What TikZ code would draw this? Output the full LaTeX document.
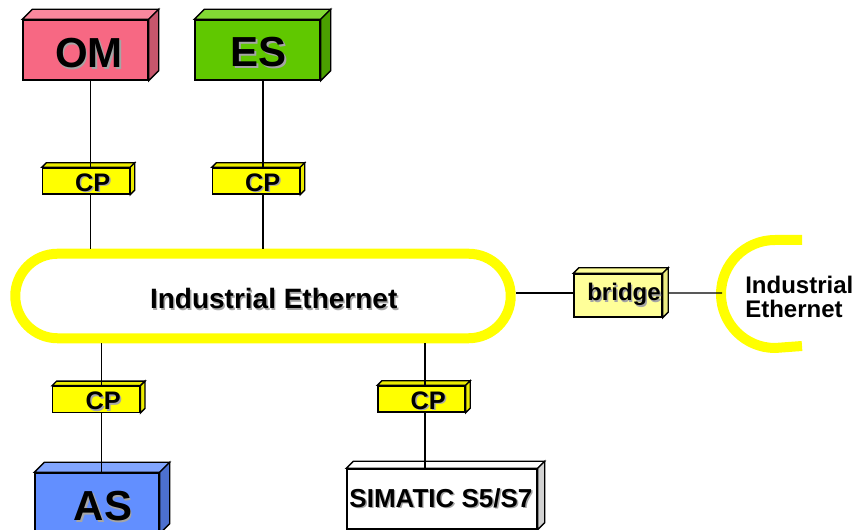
\documentclass[tikz,border=0pt]{standalone}
\usepackage{fontspec}
\setmainfont{Liberation Sans}
\usetikzlibrary{positioning,calc,shapes.misc}
\definecolor{omfront}{RGB}{247,104,131}
\definecolor{omtop}{RGB}{249,136,157}
\definecolor{omside}{RGB}{198,86,108}
\definecolor{esfront}{RGB}{96,200,0}
\definecolor{estop}{RGB}{130,216,52}
\definecolor{esside}{RGB}{74,160,0}
\definecolor{asfront}{RGB}{98,143,255}
\definecolor{astop}{RGB}{130,166,255}
\definecolor{asside}{RGB}{76,112,208}
\definecolor{cpyellow}{RGB}{255,255,0}
\definecolor{cpside}{RGB}{236,236,0}
\definecolor{bridgeyellow}{RGB}{255,255,153}
\definecolor{bridgeside}{RGB}{236,236,130}
\definecolor{simside}{RGB}{210,210,210}
\definecolor{ringyellow}{RGB}{255,255,0}
\definecolor{shadowgray}{RGB}{165,165,165}
% text with a grey drop shadow, moved right by #1 and down by #2
\newcommand{\shtext}[3]{\kern#1\kern#1\raisebox{-#2}[\height][\depth]{\rlap{\kern1.1pt\raisebox{-1.1pt}{\color{shadowgray}#3}}#3}}
% top and side faces of a box node: node, depth, top colour, side colour
\newcommand{\boxfaces}[4]{%
	\draw [line width=1pt, fill=#3] (#1.north west) -- ++(#2,-#2) -- ($(#1.north east)+(#2,-#2)$) -- (#1.north east) -- cycle ;
	\draw [line width=1pt, fill=#4] (#1.north east) -- ++(#2,-#2) -- ($(#1.south east)+(#2,-#2)$) -- (#1.south east) -- cycle ;
}

\begin{document}
\begin{tikzpicture}[x=0.75pt,y=0.75pt,yscale=-1,xscale=1,
	unit/.style={draw, line width=1pt, inner sep=0pt, align=center},
	bigtext/.style={font=\bfseries\fontsize{31.5}{36}\selectfont},
	cpbox/.style={unit, fill=cpyellow, minimum width=65.25pt, minimum height=19.5pt, font=\bfseries\fontsize{19}{22}\selectfont},
	link/.style={line width=0.9pt},
	ring/.style={draw=ringyellow, line width=7.5pt}]
	\useasboundingbox (0,0) rectangle (858,530);
	
	%Shape: Ring
	\node [ring, rounded rectangle, inner sep=0pt, minimum width=371.6pt, minimum height=63.4pt] (ring) at (263,296) {};
	% Text Node
	\node [font=\bfseries\fontsize{21}{25}\selectfont] (ringlabel) at (273.7,299.7) {\shtext{0pt}{0pt}{Industrial Ethernet}};
	
	%Shape: Box OM
	\node [unit, fill=omfront, minimum width=93.75pt, minimum height=45pt, bigtext] (om) at (85.5,50) {\shtext{2.6pt}{3pt}{OM}};
	\boxfaces{om}{10}{omtop}{omside}
	%Shape: Box ES
	\node [unit, fill=esfront, minimum width=93.75pt, minimum height=45pt, bigtext] (es) at (257.5,50) {\shtext{1.1pt}{2.3pt}{ES}};
	\boxfaces{es}{10}{estop}{esside}
	
	%Shape: CP boxes
	\node [cpbox] (cp1) at (86,181) {\shtext{5pt}{1.9pt}{CP}};
	\boxfaces{cp1}{4.5}{cpside}{cpside}
	\node [cpbox] (cp2) at (256,181) {\shtext{5pt}{1.9pt}{CP}};
	\boxfaces{cp2}{4.5}{cpside}{cpside}
	\node [cpbox] (cp3) at (96.3,399.3) {\shtext{5.25pt}{1.9pt}{CP}};
	\boxfaces{cp3}{4.5}{cpside}{cpside}
	\node [cpbox] (cp4) at (421.5,399) {\shtext{5pt}{1.9pt}{CP}};
	\boxfaces{cp4}{4.5}{cpside}{cpside}
	
	%Shape: Box AS
	\node [unit, fill=asfront, minimum width=93pt, minimum height=45pt, bigtext] (as) at (97,503) {\shtext{4.5pt}{3pt}{AS}};
	\boxfaces{as}{10}{astop}{asside}
	%Shape: Box SIMATIC
	\node [unit, fill=white, minimum width=142.5pt, minimum height=45pt, font=\bfseries\fontsize{19.5}{23}\selectfont] (simatic) at (442,499) {\shtext{-0.8pt}{0pt}{SIMATIC S5/S7}};
	\boxfaces{simatic}{7}{white}{simside}
	
	%Shape: Bridge
	\node [unit, fill=bridgeyellow, minimum width=66pt, minimum height=32.25pt, font=\bfseries\fontsize{18}{22}\selectfont] (bridge) at (618,295.5) {\shtext{4.5pt}{0pt}{bridge}};
	\boxfaces{bridge}{5.5}{bridgeyellow}{bridgeside}
	
	%Shape: Ring segment
	\coordinate (segtap) at (722,293);
	\draw [ring] (802,240) -- (775,240) arc [start angle=270, end angle=90, radius=54] -- (802,346) ;
	% Text Node
	\node [anchor=west, align=left, inner sep=0pt, font=\bfseries\fontsize{18}{18}\selectfont] (seglabel) at (745,296.5) {Industrial\\Ethernet};
	
	%Straight Lines
	\draw [link] ([xshift=3.9pt]om.south) -- ([xshift=3.9pt]om.south |- cp1.north) ;
	\draw [link] ([xshift=4.1pt]es.south) -- ([xshift=4.1pt]es.south |- cp2.north) ;
	\draw [link] ([xshift=3.5pt]cp1.south) -- ([xshift=3.5pt]cp1.south |- ring.north) ;
	\draw [link] ([xshift=5.25pt]cp2.south) -- ([xshift=5.25pt]cp2.south |- ring.north) ;
	\draw [link] ([xshift=4pt]cp3.north) -- ([xshift=4pt]cp3.north |- ring.south) ;
	\draw [link] ([xshift=4pt]cp3.south) -- ([xshift=4pt]cp3.south |- as.north) ;
	\draw [link] ([xshift=2.6pt]cp4.north) -- ([xshift=2.6pt]cp4.north |- ring.south) ;
	\draw [link] ([xshift=2.6pt]cp4.south) -- ([xshift=2.6pt]cp4.south |- simatic.north) ;
	\draw [link] ([yshift=-1.9pt]bridge.west) -- ([yshift=-1.9pt]bridge.west -| ring.east) ;
	\draw [link] ([xshift=4pt,yshift=-1.9pt]bridge.east) -- (segtap) ;
	
\end{tikzpicture}
\end{document}
